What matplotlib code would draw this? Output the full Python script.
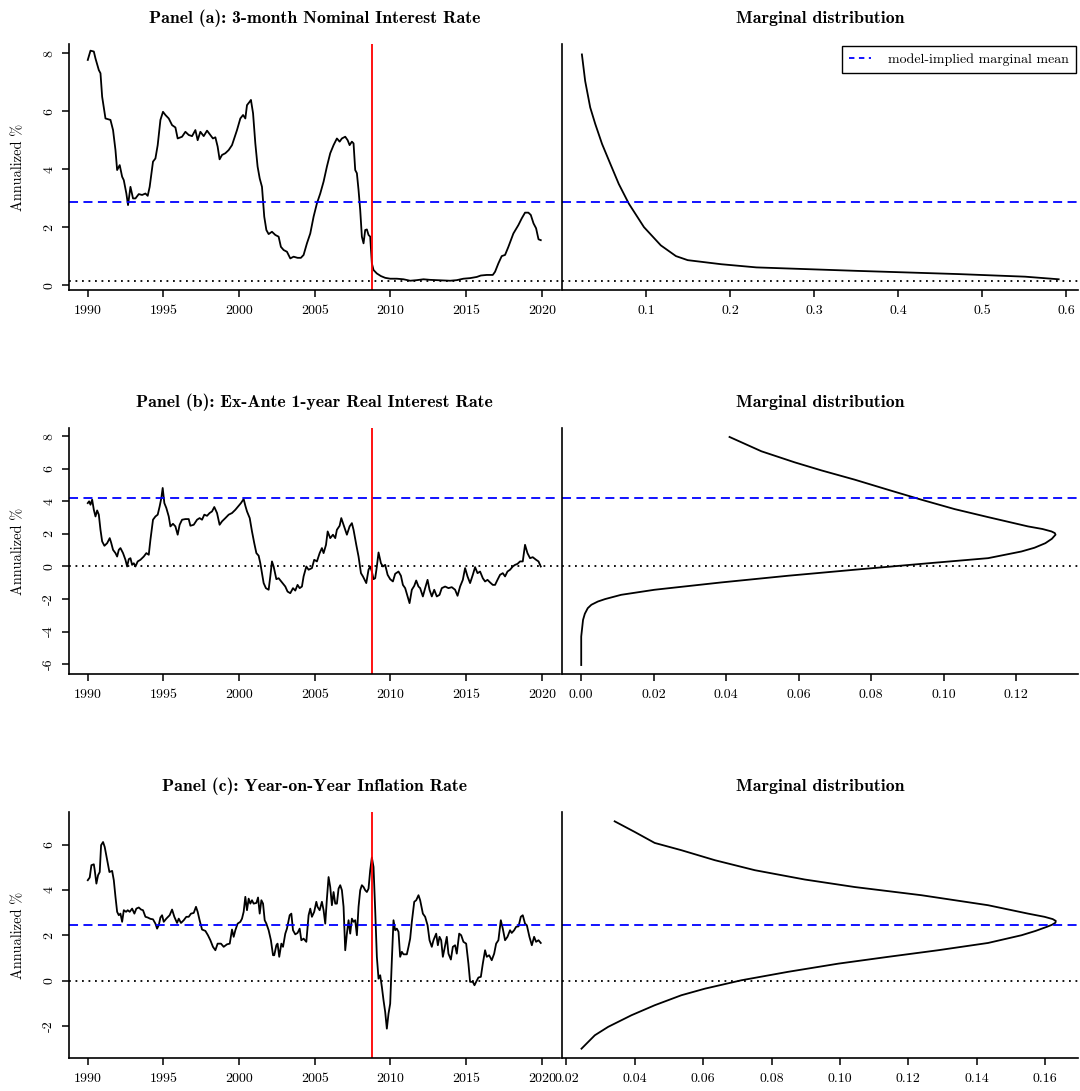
import matplotlib
matplotlib.use("Agg")
import matplotlib.pyplot as plt
from matplotlib.lines import Line2D

plt.rcParams["font.family"] = "cmr10"
plt.rcParams["axes.formatter.use_mathtext"] = True

# ---- Panel (a): 3-month nominal rate ----
nom_year = [1990.00, 1990.18, 1990.40, 1990.51, 1990.73, 1990.84, 1990.95, 1991.17, 1991.50, 1991.67,
            1991.83, 1991.94, 1992.11, 1992.27, 1992.38, 1992.55, 1992.66, 1992.82, 1992.99, 1993.15,
            1993.37, 1993.59, 1993.81, 1993.96, 1994.09, 1994.31, 1994.47, 1994.62, 1994.80, 1994.97,
            1995.13, 1995.35, 1995.57, 1995.79, 1995.94, 1996.23, 1996.45, 1996.67, 1996.89, 1997.11,
            1997.26, 1997.44, 1997.66, 1997.88, 1998.10, 1998.27, 1998.43, 1998.58, 1998.71, 1998.87,
            1999.09, 1999.31, 1999.53, 1999.64, 1999.86, 2000.08, 2000.26, 2000.41, 2000.52, 2000.70,
            2000.78, 2000.92, 2001.07, 2001.22, 2001.36, 2001.51, 2001.66, 2001.80, 2001.95, 2002.17,
            2002.39, 2002.61, 2002.76, 2002.94, 2003.16, 2003.38, 2003.60, 2003.86, 2004.08, 2004.26,
            2004.48, 2004.70, 2004.92, 2005.14, 2005.36, 2005.58, 2005.80, 2006.02, 2006.24, 2006.46,
            2006.64, 2006.79, 2007.01, 2007.17, 2007.30, 2007.45, 2007.56, 2007.67, 2007.78, 2007.89,
            2008.00, 2008.11, 2008.22, 2008.33, 2008.44, 2008.55, 2008.66, 2008.77, 2008.88, 2009.10,
            2009.37, 2009.65, 2009.98, 2010.42, 2010.86, 2011.30, 2011.74, 2012.18, 2012.62, 2013.06,
            2013.50, 2013.94, 2014.38, 2014.82, 2015.26, 2015.70, 2015.97, 2016.36, 2016.76, 2016.91,
            2017.13, 2017.35, 2017.57, 2017.79, 2018.12, 2018.45, 2018.67, 2018.89, 2019.11, 2019.27,
            2019.45, 2019.62, 2019.78, 2019.93]
nom_rate = [7.77, 8.09, 8.06, 7.82, 7.42, 7.31, 6.50, 5.75, 5.70, 5.35,
            4.66, 3.97, 4.14, 3.74, 3.62, 3.16, 2.76, 3.39, 2.99, 2.99,
            3.14, 3.11, 3.16, 3.08, 3.39, 4.26, 4.37, 4.83, 5.70, 5.98,
            5.87, 5.75, 5.52, 5.44, 5.06, 5.12, 5.29, 5.18, 5.14, 5.35,
            5.00, 5.29, 5.14, 5.33, 5.18, 5.06, 5.10, 4.78, 4.34, 4.49,
            4.55, 4.66, 4.83, 5.00, 5.35, 5.75, 5.87, 5.75, 6.21, 6.33,
            6.39, 5.93, 4.89, 4.09, 3.68, 3.39, 2.36, 1.90, 1.76, 1.84,
            1.73, 1.67, 1.32, 1.21, 1.15, 0.92, 0.98, 0.94, 0.94, 1.04,
            1.44, 1.78, 2.36, 2.82, 3.16, 3.57, 4.09, 4.55, 4.83, 5.06,
            4.95, 5.06, 5.12, 5.00, 4.83, 4.95, 4.89, 3.97, 3.86, 3.28,
            2.59, 1.67, 1.44, 1.90, 1.92, 1.73, 1.67, 0.75, 0.52, 0.40,
            0.31, 0.25, 0.22, 0.22, 0.20, 0.15, 0.17, 0.20, 0.18, 0.17,
            0.16, 0.15, 0.17, 0.22, 0.24, 0.28, 0.33, 0.35, 0.35, 0.46,
            0.75, 1.00, 1.04, 1.32, 1.78, 2.07, 2.30, 2.50, 2.50, 2.42,
            2.13, 1.96, 1.58, 1.55]
nom_dens_y = [7.96, 7.04, 6.13, 5.56, 4.87, 4.18, 3.49, 2.81, 2.00, 1.37, 1.00, 0.86, 0.72, 0.61, 0.49, 0.38,
              0.29, 0.20]
nom_dens = [0.0232, 0.0271, 0.0331, 0.0391, 0.0472, 0.0571, 0.0671, 0.0791, 0.0971, 0.1172, 0.1352, 0.1492,
            0.189, 0.231, 0.351, 0.471, 0.551, 0.591]
nom_mean = 2.87
nom_lower = 0.15

# ---- Panel (b): ex-ante 1-year real rate ----
real_year = [1990.00, 1990.09, 1990.18, 1990.29, 1990.40, 1990.51, 1990.62, 1990.73, 1990.84, 1990.95,
             1991.10, 1991.28, 1991.45, 1991.54, 1991.67, 1991.83, 1991.94, 1992.05, 1992.16, 1992.33,
             1992.49, 1992.60, 1992.71, 1992.82, 1992.93, 1993.04, 1993.15, 1993.30, 1993.48, 1993.70,
             1993.87, 1994.03, 1994.14, 1994.31, 1994.47, 1994.62, 1994.75, 1994.86, 1994.95, 1995.06,
             1995.19, 1995.35, 1995.46, 1995.63, 1995.79, 1995.94, 1996.07, 1996.23, 1996.45, 1996.67,
             1996.78, 1997.00, 1997.22, 1997.39, 1997.55, 1997.70, 1997.88, 1998.05, 1998.21, 1998.36,
             1998.54, 1998.71, 1998.87, 1999.09, 1999.31, 1999.53, 1999.75, 1999.97, 2000.12, 2000.30,
             2000.41, 2000.52, 2000.70, 2000.85, 2001.00, 2001.14, 2001.29, 2001.40, 2001.51, 2001.62,
             2001.77, 2001.95, 2002.06, 2002.17, 2002.28, 2002.46, 2002.61, 2002.83, 2003.05, 2003.20,
             2003.38, 2003.56, 2003.71, 2003.86, 2004.00, 2004.15, 2004.26, 2004.44, 2004.59, 2004.81,
             2004.96, 2005.14, 2005.32, 2005.47, 2005.58, 2005.74, 2005.85, 2006.02, 2006.20, 2006.35,
             2006.46, 2006.64, 2006.75, 2006.90, 2007.12, 2007.30, 2007.45, 2007.56, 2007.74, 2007.89,
             2008.05, 2008.18, 2008.27, 2008.40, 2008.55, 2008.66, 2008.77, 2008.88, 2008.99, 2009.10,
             2009.21, 2009.37, 2009.50, 2009.65, 2009.81, 2009.98, 2010.16, 2010.31, 2010.53, 2010.69,
             2010.82, 2010.97, 2011.13, 2011.26, 2011.41, 2011.57, 2011.70, 2011.85, 2011.96, 2012.14,
             2012.29, 2012.45, 2012.58, 2012.73, 2012.89, 2013.06, 2013.24, 2013.39, 2013.61, 2013.83,
             2014.05, 2014.27, 2014.43, 2014.60, 2014.78, 2014.93, 2015.09, 2015.26, 2015.44, 2015.59,
             2015.75, 2015.92, 2016.10, 2016.25, 2016.41, 2016.58, 2016.76, 2016.91, 2017.07, 2017.24,
             2017.42, 2017.57, 2017.73, 2017.90, 2018.08, 2018.23, 2018.39, 2018.56, 2018.74, 2018.89,
             2019.05, 2019.22, 2019.40, 2019.62, 2019.78, 2019.93]
real_rate = [3.89, 4.00, 3.79, 4.10, 3.48, 3.07, 3.44, 3.18, 2.25, 1.54,
             1.27, 1.43, 1.74, 1.48, 1.02, 0.82, 0.61, 1.02, 1.13, 0.82,
             0.41, 0.00, 0.45, 0.51, 0.10, 0.20, 0.00, 0.31, 0.41, 0.61,
             0.82, 0.72, 1.64, 2.87, 3.07, 3.18, 3.69, 4.20, 4.82, 3.89,
             3.59, 3.07, 2.46, 2.62, 2.46, 1.95, 2.56, 2.87, 2.91, 2.91,
             2.50, 2.56, 2.87, 2.97, 2.87, 3.18, 3.11, 3.28, 3.38, 3.65,
             3.28, 2.56, 2.77, 2.97, 3.18, 3.28, 3.48, 3.73, 3.89, 4.14,
             3.73, 3.38, 2.97, 2.15, 1.43, 0.82, 0.66, 0.20, -0.41, -1.02,
             -1.33, -1.43, -0.61, 0.31, 0.00, -0.78, -0.72, -0.98, -1.23, -1.54,
             -1.64, -1.33, -1.48, -1.13, -1.33, -1.23, -0.61, 0.00, -0.20, -0.10,
             0.41, 0.31, 0.82, 1.13, 0.82, 1.33, 2.15, 1.74, 1.95, 1.74,
             2.25, 2.50, 2.97, 2.56, 1.95, 2.46, 2.66, 2.25, 1.33, 0.61,
             -0.41, -0.61, -0.78, -1.02, -0.20, 0.00, -0.31, -0.78, -0.72, 0.00,
             0.86, 0.20, 0.00, 0.10, -0.51, -0.78, -0.92, -0.45, -0.31, -0.57,
             -1.13, -1.33, -1.84, -2.25, -1.43, -1.19, -0.86, -1.23, -1.33, -1.84,
             -1.33, -0.82, -1.43, -1.84, -1.43, -1.84, -1.74, -1.33, -1.23, -1.33,
             -1.27, -1.43, -1.80, -1.23, -0.82, -0.10, -0.61, -1.02, -0.51, -0.04,
             -0.41, -0.31, -0.72, -0.92, -0.82, -0.98, -1.13, -1.13, -0.82, -0.51,
             -0.41, -0.61, -0.31, -0.20, 0.00, 0.10, 0.16, 0.31, 0.31, 1.33,
             0.82, 0.51, 0.57, 0.41, 0.31, 0.00]
real_dens_y = [7.95, 7.07, 6.39, 5.90, 5.33, 4.71, 4.10, 3.52, 3.03, 2.46, 2.30, 2.15, 2.05, 1.95, 1.70, 1.43,
               1.15, 0.92, 0.51, 0.16, -0.20, -0.57, -0.98, -1.43, -1.74, -2.00, -2.15, -2.35, -2.56, -2.90,
               -3.28, -4.30, -6.05]
real_dens = [0.0409, 0.0497, 0.0589, 0.0662, 0.0754, 0.0846, 0.0938, 0.1030, 0.1122, 0.1232, 0.1272, 0.1297,
             0.1306, 0.1308, 0.1298, 0.1280, 0.1250, 0.1214, 0.1122, 0.0938, 0.0754, 0.0570, 0.0386, 0.0202,
             0.0110, 0.0066, 0.0046, 0.0028, 0.0018, 0.0010, 0.0005, 0.0, 0.0]
real_mean = 4.18
real_lower = 0.0

# ---- Panel (c): year-on-year inflation ----
infl_year = [1990.00, 1990.13, 1990.24, 1990.40, 1990.46, 1990.57, 1990.68, 1990.79, 1990.88, 1991.01,
             1991.12, 1991.28, 1991.43, 1991.61, 1991.72, 1991.83, 1991.94, 1992.05, 1992.16, 1992.27,
             1992.38, 1992.53, 1992.64, 1992.77, 1992.93, 1993.08, 1993.21, 1993.37, 1993.52, 1993.65,
             1993.81, 1993.96, 1994.14, 1994.31, 1994.47, 1994.58, 1994.69, 1994.80, 1994.91, 1995.02,
             1995.19, 1995.41, 1995.57, 1995.72, 1995.90, 1996.01, 1996.16, 1996.34, 1996.51, 1996.67,
             1996.82, 1997.00, 1997.15, 1997.26, 1997.39, 1997.55, 1997.77, 1997.94, 1998.10, 1998.27,
             1998.43, 1998.58, 1998.80, 1998.98, 1999.20, 1999.38, 1999.53, 1999.64, 1999.75, 1999.90,
             2000.08, 2000.19, 2000.30, 2000.41, 2000.52, 2000.63, 2000.74, 2000.85, 2000.96, 2001.14,
             2001.25, 2001.36, 2001.47, 2001.58, 2001.69, 2001.80, 2001.95, 2002.10, 2002.24, 2002.32,
             2002.46, 2002.54, 2002.65, 2002.79, 2002.90, 2003.05, 2003.16, 2003.34, 2003.45, 2003.56,
             2003.71, 2003.86, 2004.00, 2004.11, 2004.26, 2004.44, 2004.59, 2004.70, 2004.81, 2004.96,
             2005.10, 2005.18, 2005.32, 2005.47, 2005.58, 2005.69, 2005.80, 2005.91, 2006.02, 2006.13,
             2006.24, 2006.35, 2006.46, 2006.57, 2006.68, 2006.79, 2006.90, 2007.01, 2007.12, 2007.23,
             2007.34, 2007.45, 2007.56, 2007.67, 2007.78, 2007.89, 2008.00, 2008.11, 2008.22, 2008.33,
             2008.44, 2008.55, 2008.66, 2008.77, 2008.88, 2008.99, 2009.10, 2009.21, 2009.32, 2009.43,
             2009.54, 2009.65, 2009.76, 2009.87, 2009.98, 2010.09, 2010.20, 2010.31, 2010.42, 2010.53,
             2010.64, 2010.75, 2010.86, 2011.08, 2011.19, 2011.30, 2011.41, 2011.57, 2011.70, 2011.85,
             2011.96, 2012.14, 2012.29, 2012.45, 2012.58, 2012.73, 2012.84, 2013.02, 2013.13, 2013.24,
             2013.35, 2013.46, 2013.57, 2013.72, 2013.83, 2013.99, 2014.12, 2014.27, 2014.38, 2014.54,
             2014.67, 2014.82, 2015.00, 2015.15, 2015.26, 2015.44, 2015.55, 2015.66, 2015.81, 2015.97,
             2016.10, 2016.25, 2016.36, 2016.52, 2016.69, 2016.85, 2016.98, 2017.13, 2017.29, 2017.42,
             2017.57, 2017.73, 2017.90, 2018.01, 2018.17, 2018.30, 2018.46, 2018.61, 2018.74, 2018.89,
             2019.01, 2019.18, 2019.34, 2019.49, 2019.62, 2019.78, 2019.93]
infl_rate = [4.43, 4.55, 5.09, 5.13, 4.87, 4.28, 4.65, 4.79, 5.97, 6.11,
             5.89, 5.31, 4.79, 4.84, 4.43, 3.70, 3.04, 2.89, 2.96, 2.60,
             3.11, 3.04, 3.11, 3.04, 3.18, 2.96, 3.18, 3.23, 3.14, 3.11,
             2.82, 2.79, 2.73, 2.71, 2.52, 2.30, 2.45, 2.79, 2.89, 2.60,
             2.74, 2.89, 3.14, 2.82, 2.55, 2.74, 2.55, 2.67, 2.82, 2.82,
             2.96, 2.99, 3.26, 3.04, 2.67, 2.26, 2.20, 2.01, 1.79, 1.50,
             1.35, 1.64, 1.64, 1.50, 1.61, 1.64, 2.26, 1.94, 2.23, 2.52,
             2.60, 2.74, 3.04, 3.70, 3.11, 3.62, 3.40, 3.55, 3.40, 3.43,
             3.67, 2.96, 3.55, 3.40, 2.67, 2.52, 2.23, 1.79, 1.13, 1.13,
             1.57, 1.64, 1.06, 1.64, 1.50, 2.08, 2.30, 2.89, 2.96, 2.23,
             2.05, 2.11, 2.30, 1.79, 1.86, 1.72, 2.89, 3.18, 2.82, 3.04,
             3.48, 3.26, 3.11, 3.48, 3.11, 2.52, 3.62, 4.57, 4.13, 3.33,
             3.91, 3.40, 3.40, 4.06, 4.21, 3.99, 3.26, 1.35, 2.08, 2.67,
             2.08, 2.74, 2.60, 2.67, 2.01, 3.26, 3.99, 4.21, 4.13, 3.99,
             3.91, 4.06, 4.87, 5.43, 5.01, 3.11, 1.06, 0.10, 0.25, -0.26,
             -0.85, -1.36, -2.10, -1.44, -1.00, 0.91, 2.67, 2.23, 2.30, 2.16,
             1.06, 1.28, 1.17, 1.17, 1.50, 1.86, 2.60, 3.48, 3.55, 3.77,
             3.55, 2.96, 2.82, 2.45, 1.79, 1.50, 1.79, 2.08, 1.57, 1.94,
             1.79, 1.06, 1.42, 1.94, 1.20, 0.94, 1.50, 1.57, 1.20, 2.08,
             2.01, 1.72, 1.64, 0.76, -0.04, -0.04, -0.19, -0.04, 0.15, 0.18,
             0.76, 1.35, 1.06, 1.13, 0.91, 1.20, 1.64, 1.79, 2.67, 2.30,
             1.79, 1.94, 2.23, 2.11, 2.23, 2.38, 2.40, 2.82, 2.89, 2.52,
             2.45, 1.94, 1.57, 1.94, 1.72, 1.79, 1.67]
infl_dens_y = [7.02, 6.55, 6.07, 5.75, 5.31, 4.87, 4.46, 4.13, 3.77, 3.33, 2.96, 2.82, 2.72, 2.64, 2.56, 2.47,
               2.38, 2.20, 2.01, 1.67, 1.35, 1.06, 0.76, 0.40, 0.03, -0.34, -0.63, -1.07, -1.51, -2.02, -2.39,
               -2.98]
infl_dens = [0.0341, 0.0400, 0.0458, 0.0536, 0.0634, 0.0751, 0.0897, 0.1043, 0.1238, 0.1433, 0.1550, 0.1598,
             0.1622, 0.1631, 0.1630, 0.1620, 0.1605, 0.1572, 0.1531, 0.1433, 0.1287, 0.1141, 0.0995, 0.0848,
             0.0712, 0.0605, 0.0536, 0.0458, 0.0390, 0.0322, 0.0283, 0.0244]
infl_mean = 2.45
infl_lower = 0.0

crisis_date = 2008.75

year_ticks = [1990, 1995, 2000, 2005, 2010, 2015, 2020]

panels = [
    dict(title="Panel (a): 3-month Nominal Interest Rate", year=nom_year, rate=nom_rate,
         dy=nom_dens_y, dx=nom_dens, mean=nom_mean, lower=nom_lower,
         ylim=(-0.17, 8.32), yticks=[0, 2, 4, 6, 8], ylabels=["0", "2", "4", "6", "8"],
         xlim_d=(-0.0005, 0.614), dticks=[0.1, 0.2, 0.3, 0.4, 0.5, 0.6],
         dlabels=["0.1", "0.2", "0.3", "0.4", "0.5", "0.6"], bottom=1 - 290 / 1091),
    dict(title="Panel (b): Ex-Ante 1-year Real Interest Rate", year=real_year, rate=real_rate,
         dy=real_dens_y, dx=real_dens, mean=real_mean, lower=real_lower,
         ylim=(-6.6, 8.5), yticks=[-6, -4, -2, 0, 2, 4, 6, 8],
         ylabels=["-6", "-4", "-2", "0", "2", "4", "6", "8"],
         xlim_d=(-0.0053, 0.137), dticks=[0.0, 0.02, 0.04, 0.06, 0.08, 0.10, 0.12],
         dlabels=["0.00", "0.02", "0.04", "0.06", "0.08", "0.10", "0.12"], bottom=1 - 674 / 1091),
    dict(title="Panel (c): Year-on-Year Inflation Rate", year=infl_year, rate=infl_rate,
         dy=infl_dens_y, dx=infl_dens, mean=infl_mean, lower=infl_lower,
         ylim=(-3.39, 7.43), yticks=[-2, 0, 2, 4, 6], ylabels=["-2", "0", "2", "4", "6"],
         xlim_d=(0.0187, 0.1696), dticks=[0.02, 0.04, 0.06, 0.08, 0.10, 0.12, 0.14, 0.16],
         dlabels=["0.02", "0.04", "0.06", "0.08", "0.10", "0.12", "0.14", "0.16"], bottom=1 - 1058 / 1091),
]

W, H = 1080, 1091
fig = plt.figure(figsize=(W / 100, H / 100), dpi=100)
lw = 1.3
dash = (5, 3)
dots = (1, 2.6)


def style(ax):
    for s in ["top", "right"]:
        ax.spines[s].set_visible(False)
    for s in ["left", "bottom"]:
        ax.spines[s].set_linewidth(1.2)
    ax.tick_params(direction="out", length=5, width=1.1, labelsize=10)
    ax.tick_params(axis="x", pad=6)
    ax.tick_params(axis="y", pad=5)


ah = 246 / H
for p in panels:
    ax = fig.add_axes([69 / W, p["bottom"], (560 - 69) / W, ah])
    ax.plot(p["year"], p["rate"], color="black", lw=lw)
    ax.axhline(p["mean"], color="#0000ff", lw=lw, dashes=dash)
    ax.axhline(p["lower"], color="black", lw=lw, dashes=dots)
    ax.axvline(crisis_date, color="#ff0000", lw=lw)
    ax.set_xlim(1988.76, 2021.2)
    ax.set_ylim(*p["ylim"])
    ax.set_xticks(year_ticks)
    ax.set_xticklabels([str(y) for y in year_ticks])
    ax.set_yticks(p["yticks"])
    ax.set_yticklabels(p["ylabels"], rotation=90, va="center")
    style(ax)
    ax.set_title(p["title"], fontfamily="cmb10", fontsize=12.8, pad=15)
    fig.text(18 / W, p["bottom"] + ah / 2, "Annualized %", rotation=90, ha="center", va="center",
             fontsize=10.4)

    ax2 = fig.add_axes([562 / W, p["bottom"], (1078 - 562) / W, ah])
    ax2.plot(p["dx"], p["dy"], color="black", lw=lw)
    ax2.axhline(p["mean"], color="#0000ff", lw=lw, dashes=dash)
    ax2.axhline(p["lower"], color="black", lw=lw, dashes=dots)
    ax2.set_xlim(*p["xlim_d"])
    ax2.set_ylim(*p["ylim"])
    ax2.set_xticks(p["dticks"])
    ax2.set_xticklabels(p["dlabels"])
    ax2.set_yticks([])
    style(ax2)
    ax2.set_title("Marginal distribution", fontfamily="cmb10", fontsize=12.8, pad=15)

    if p is panels[0]:
        h = Line2D([], [], color="#0000ff", lw=lw, dashes=(3, 2.5))
        leg = ax2.legend([h], ["model-implied marginal mean"], loc="upper right", fontsize=10,
                         fancybox=False, framealpha=1, edgecolor="black", borderaxespad=0.15,
                         handlelength=1.6, handletextpad=1.2, borderpad=0.5)
        leg.get_frame().set_linewidth(1.0)

fig.savefig("out.png", dpi=100)
